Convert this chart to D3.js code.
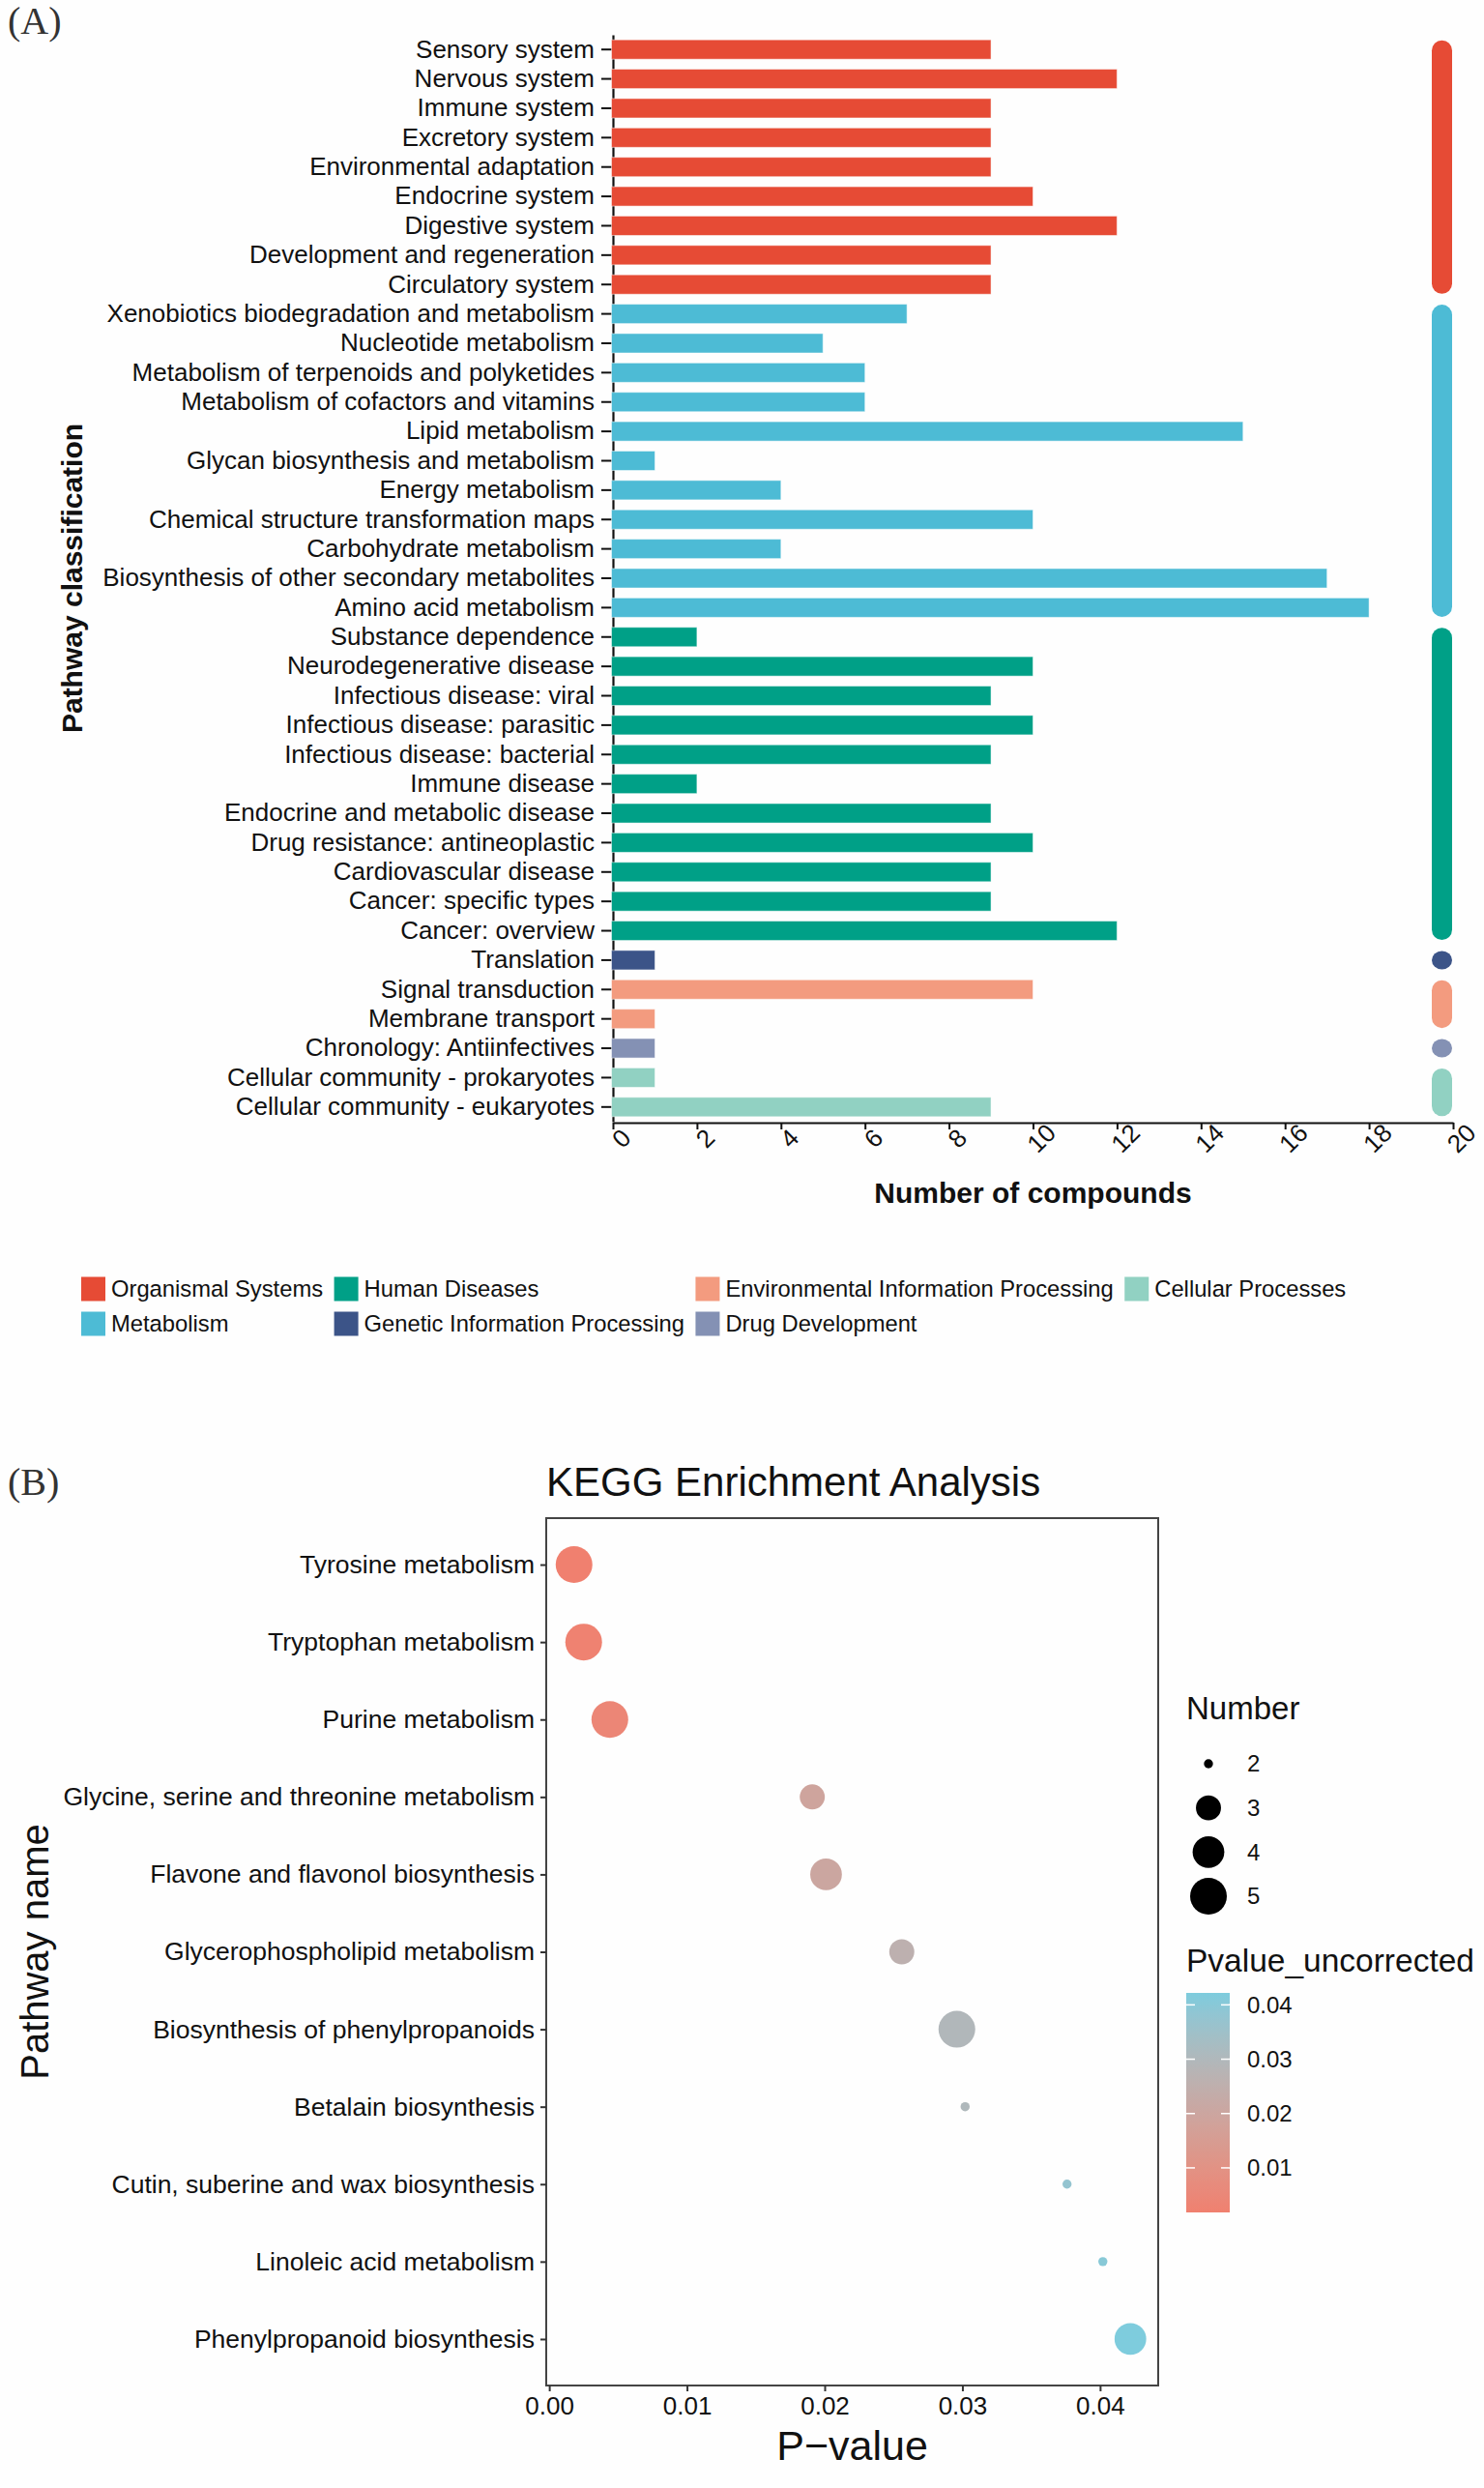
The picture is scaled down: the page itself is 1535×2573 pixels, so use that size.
<!DOCTYPE html>
<html>
<head>
<meta charset="utf-8">
<script src="https://cdn.jsdelivr.net/npm/d3@7"></script>
<style>
  body { margin: 0; background: #fff; }
  svg { display: block; font-family: "Liberation Sans", Arial, sans-serif; }
</style>
</head>
<body>
<svg id="chart" width="1535" height="2573"></svg>
<script>
// ---- Panel A data ----
const pathwayNames = [
  "Sensory system", "Nervous system", "Immune system", "Excretory system",
  "Environmental adaptation", "Endocrine system", "Digestive system",
  "Development and regeneration", "Circulatory system",
  "Xenobiotics biodegradation and metabolism", "Nucleotide metabolism",
  "Metabolism of terpenoids and polyketides", "Metabolism of cofactors and vitamins",
  "Lipid metabolism", "Glycan biosynthesis and metabolism", "Energy metabolism",
  "Chemical structure transformation maps", "Carbohydrate metabolism",
  "Biosynthesis of other secondary metabolites", "Amino acid metabolism",
  "Substance dependence", "Neurodegenerative disease", "Infectious disease: viral",
  "Infectious disease: parasitic", "Infectious disease: bacterial", "Immune disease",
  "Endocrine and metabolic disease", "Drug resistance: antineoplastic",
  "Cardiovascular disease", "Cancer: specific types", "Cancer: overview",
  "Translation", "Signal transduction", "Membrane transport",
  "Chronology: Antiinfectives", "Cellular community - prokaryotes",
  "Cellular community - eukaryotes"
];
const pathwayCounts = [
  9, 12, 9, 9, 9, 10, 12, 9, 9,
  7, 5, 6, 6, 15, 1, 4, 10, 4, 17, 18,
  2, 10, 9, 10, 9, 2, 9, 10, 9, 9, 12,
  1, 10, 1, 1, 1, 9
];
const pathwayClass = [
  "Organismal Systems", "Organismal Systems", "Organismal Systems", "Organismal Systems",
  "Organismal Systems", "Organismal Systems", "Organismal Systems", "Organismal Systems",
  "Organismal Systems",
  "Metabolism", "Metabolism", "Metabolism", "Metabolism", "Metabolism", "Metabolism",
  "Metabolism", "Metabolism", "Metabolism", "Metabolism", "Metabolism",
  "Human Diseases", "Human Diseases", "Human Diseases", "Human Diseases", "Human Diseases",
  "Human Diseases", "Human Diseases", "Human Diseases", "Human Diseases", "Human Diseases",
  "Human Diseases",
  "Genetic Information Processing",
  "Environmental Information Processing", "Environmental Information Processing",
  "Drug Development",
  "Cellular Processes", "Cellular Processes"
];
const classNames = [
  "Organismal Systems", "Metabolism", "Human Diseases", "Genetic Information Processing",
  "Environmental Information Processing", "Drug Development", "Cellular Processes"
];
const classColors = ["#E64B35", "#4DBBD5", "#00A087", "#3C5488", "#F39B7F", "#8491B4", "#91D1C2"];
const countTicks = [0, 2, 4, 6, 8, 10, 12, 14, 16, 18, 20];

// ---- Panel B data ----
const keggNames = [
  "Tyrosine metabolism", "Tryptophan metabolism", "Purine metabolism",
  "Glycine, serine and threonine metabolism", "Flavone and flavonol biosynthesis",
  "Glycerophospholipid metabolism", "Biosynthesis of phenylpropanoids",
  "Betalain biosynthesis", "Cutin, suberine and wax biosynthesis",
  "Linoleic acid metabolism", "Phenylpropanoid biosynthesis"
];
const keggPvalue = [0.0018, 0.0025, 0.0044, 0.0191, 0.0201, 0.0256, 0.0296, 0.0302, 0.0376, 0.0402, 0.0422];
const keggNumber = [5, 5, 5, 3, 4, 3, 5, 2, 2, 2, 4];
const pTicks = [0, 0.01, 0.02, 0.03, 0.04];
const numberKeys = [2, 3, 4, 5];
const colorKeys = [0.01, 0.02, 0.03, 0.04];

const svg = d3.select("#chart");
svg.append("rect").attr("width", 1535).attr("height", 2573).attr("fill", "#fefefe");

// ================= Panel A =================
const color = d3.scaleOrdinal(classNames, classColors);
const xA = d3.scaleLinear([0, 20], [634, 1503]);
const yA = d3.scaleBand(pathwayNames, [36, 1160]).paddingInner(0.34).paddingOuter(0.17);

svg.append("text").text("(A)")
  .attr("x", 8).attr("y", 35)
  .style("font-family", "'Liberation Serif', 'DejaVu Serif', serif")
  .style("font-size", "40px").attr("fill", "#333");

const gA = svg.append("g");

// y axis (drawn first so the bars sit on top of its line)
const yAxisA = gA.append("g")
  .attr("transform", `translate(${xA(0)},0)`)
  .call(d3.axisLeft(yA).tickSize(12).tickPadding(7).tickSizeOuter(0));
yAxisA.select(".domain").attr("stroke", "#111").attr("stroke-width", 2.2);
yAxisA.selectAll(".tick line").attr("stroke", "#111").attr("stroke-width", 2);
yAxisA.selectAll(".tick text").style("font-size", "26px").attr("fill", "#111");

// bars
gA.append("g").selectAll("rect")
  .data(pathwayNames)
  .join("rect")
  .attr("x", xA(0) - 1.5)
  .attr("y", d => yA(d))
  .attr("width", (d, i) => xA(pathwayCounts[i]) - xA(0) + 1.5)
  .attr("height", yA.bandwidth())
  .attr("fill", (d, i) => color(pathwayClass[i]))
  .attr("stroke", "#fff").attr("stroke-opacity", 0.5).attr("stroke-width", 1);

// x axis
const xAxisA = gA.append("g")
  .attr("transform", `translate(0,1161)`)
  .call(d3.axisBottom(xA).tickValues(countTicks).tickSize(7).tickSizeOuter(0));
xAxisA.select(".domain").attr("stroke", "#111").attr("stroke-width", 2.2);
xAxisA.selectAll(".tick line").attr("stroke", "#111").attr("stroke-width", 2);
xAxisA.selectAll(".tick text")
  .attr("y", 0).attr("dy", 0)
  .attr("transform", "translate(1,9) rotate(-45)")
  .attr("text-anchor", "middle")
  .attr("dominant-baseline", "hanging")
  .style("font-size", "26px").attr("fill", "#111");

// group stripes on the right
const runs = [];
pathwayClass.forEach((c, i) => {
  const last = runs[runs.length - 1];
  if (last && last.cls === c) last.end = pathwayNames[i];
  else runs.push({ cls: c, start: pathwayNames[i], end: pathwayNames[i] });
});
const half = yA.bandwidth() / 2;
gA.append("g").selectAll("rect")
  .data(runs)
  .join("rect")
  .attr("x", 1481).attr("width", 21)
  .attr("y", d => yA(d.start) + half - 9.5)
  .attr("height", d => yA(d.end) - yA(d.start) + 19)
  .attr("rx", 10.5)
  .attr("fill", d => color(d.cls));

// axis titles
gA.append("text").text("Number of compounds")
  .attr("x", (xA(0) + xA(20)) / 2).attr("y", 1244)
  .attr("text-anchor", "middle")
  .style("font-size", "30px").style("font-weight", "bold").attr("fill", "#111");
gA.append("text").text("Pathway classification")
  .attr("transform", `translate(85,${(36 + 1160) / 2}) rotate(-90)`)
  .attr("text-anchor", "middle")
  .style("font-size", "30px").style("font-weight", "bold").attr("fill", "#111");

// legend (2 rows, filled by column)
const legA = gA.append("g");
let colX = 84;
for (let c = 0; c < Math.ceil(classNames.length / 2); c++) {
  const items = classNames.slice(c * 2, c * 2 + 2);
  let maxW = 0;
  items.forEach((name, r) => {
    const cy = 1333 + r * 36;
    legA.append("rect")
      .attr("x", colX).attr("y", cy - 12.5)
      .attr("width", 25).attr("height", 25)
      .attr("fill", color(name));
    const t = legA.append("text").text(name)
      .attr("x", colX + 31).attr("y", cy)
      .attr("dy", "0.35em")
      .style("font-size", "23.75px").attr("fill", "#111");
    maxW = Math.max(maxW, t.node().getComputedTextLength());
  });
  colX += 31 + maxW + 11.5;
}

// ================= Panel B =================
svg.append("text").text("(B)")
  .attr("x", 8).attr("y", 1546)
  .style("font-family", "'Liberation Serif', 'DejaVu Serif', serif")
  .style("font-size", "40px").attr("fill", "#333");

const pMin = d3.min(keggPvalue), pMax = d3.max(keggPvalue);
const pPad = (pMax - pMin) * 0.05;
const bLeft = 565, bRight = 1198, bTop = 1570, bBottom = 2467;
const xB = d3.scaleLinear([pMin - pPad, pMax + pPad], [bLeft, bRight]);
const yB = d3.scalePoint(keggNames, [bTop, bBottom]).padding(0.6);
const rUnit = d3.scaleLinear([0, 1], [4.7, 19]);
const radius = n => rUnit(Math.sqrt((n - 2) / (5 - 2)));
const colorB = d3.scaleLinear([pMin, pMax], ["#F0806F", "#7ECCDD"]).interpolate(d3.interpolateLab);

const gB = svg.append("g");

gB.append("text").text("KEGG Enrichment Analysis")
  .attr("x", bLeft).attr("y", 1547)
  .style("font-size", "42px").attr("fill", "#111");

gB.append("rect")
  .attr("x", bLeft).attr("y", bTop)
  .attr("width", bRight - bLeft).attr("height", bBottom - bTop)
  .attr("fill", "none").attr("stroke", "#444").attr("stroke-width", 2);

const yAxisB = gB.append("g")
  .attr("transform", `translate(${bLeft},0)`)
  .call(d3.axisLeft(yB).tickSize(6).tickPadding(6));
yAxisB.select(".domain").remove();
yAxisB.selectAll(".tick line").attr("stroke", "#333").attr("stroke-width", 2);
yAxisB.selectAll(".tick text").style("font-size", "26.5px").attr("fill", "#111");

const xAxisB = gB.append("g")
  .attr("transform", `translate(0,${bBottom})`)
  .call(d3.axisBottom(xB).tickValues(pTicks).tickFormat(d3.format(".2f")).tickSize(6).tickPadding(6));
xAxisB.select(".domain").remove();
xAxisB.selectAll(".tick line").attr("stroke", "#333").attr("stroke-width", 2);
xAxisB.selectAll(".tick text").style("font-size", "26px").attr("fill", "#111");

gB.append("g").selectAll("circle")
  .data(keggNames)
  .join("circle")
  .attr("cx", (d, i) => xB(keggPvalue[i]))
  .attr("cy", d => yB(d))
  .attr("r", (d, i) => radius(keggNumber[i]))
  .attr("fill", (d, i) => colorB(keggPvalue[i]));

gB.append("text").text("P\u2212value")
  .attr("x", (bLeft + bRight) / 2).attr("y", 2544)
  .attr("text-anchor", "middle")
  .style("font-size", "43px").attr("fill", "#111");
gB.append("text").text("Pathway name")
  .attr("transform", `translate(50,${(bTop + bBottom) / 2}) rotate(-90)`)
  .attr("text-anchor", "middle")
  .style("font-size", "40px").attr("fill", "#111");

// size legend
const legB = gB.append("g");
legB.append("text").text("Number")
  .attr("x", 1227).attr("y", 1778)
  .style("font-size", "33px").attr("fill", "#111");
const keyY = d3.scalePoint(numberKeys, [1824, 1961]);
legB.selectAll("circle.key")
  .data(numberKeys)
  .join("circle")
  .attr("class", "key")
  .attr("cx", 1250).attr("cy", d => keyY(d))
  .attr("r", d => radius(d))
  .attr("fill", "#000");
legB.selectAll("text.key")
  .data(numberKeys)
  .join("text")
  .attr("class", "key")
  .text(d => d)
  .attr("x", 1290).attr("y", d => keyY(d)).attr("dy", "0.35em")
  .style("font-size", "24px").attr("fill", "#111");

// colour bar legend
legB.append("text").text("Pvalue_uncorrected")
  .attr("x", 1227).attr("y", 2039)
  .style("font-size", "33.5px").attr("fill", "#111");
const barTop = 2061, barBottom = 2288, barX = 1227, barW = 45;
const barY = d3.scaleLinear([pMin, pMax], [barBottom, barTop]);
const grad = svg.append("defs").append("linearGradient")
  .attr("id", "pgrad").attr("x1", 0).attr("y1", 1).attr("x2", 0).attr("y2", 0);
d3.range(0, 1.0001, 0.1).forEach(t => {
  grad.append("stop").attr("offset", t)
    .attr("stop-color", colorB(pMin + t * (pMax - pMin)));
});
legB.append("rect")
  .attr("x", barX).attr("y", barTop)
  .attr("width", barW).attr("height", barBottom - barTop)
  .attr("fill", "url(#pgrad)");
colorKeys.forEach(v => {
  const y = barY(v);
  legB.append("line").attr("x1", barX).attr("x2", barX + 9).attr("y1", y).attr("y2", y)
    .attr("stroke", "#fff").attr("stroke-width", 1.5);
  legB.append("line").attr("x1", barX + barW - 9).attr("x2", barX + barW).attr("y1", y).attr("y2", y)
    .attr("stroke", "#fff").attr("stroke-width", 1.5);
  legB.append("text").text(d3.format(".2f")(v))
    .attr("x", 1290).attr("y", y).attr("dy", "0.35em")
    .style("font-size", "24px").attr("fill", "#111");
});
</script>
</body>
</html>
